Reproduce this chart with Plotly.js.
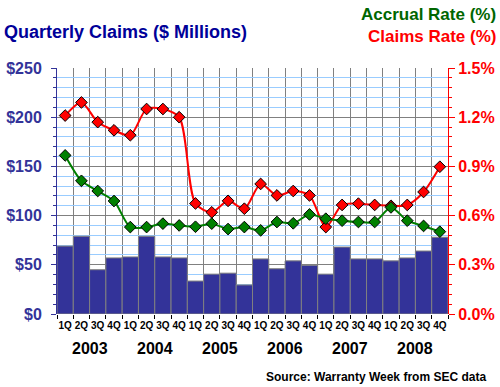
<!DOCTYPE html>
<html><head><meta charset="utf-8">
<script src="https://cdn.plot.ly/plotly-3.0.1.min.js"></script>
<style>body{margin:0;background:#fff}#c{width:500px;height:387px}</style>
</head><body><div id="c"></div>
<script>
const quarters = ["1Q","2Q","3Q","4Q","1Q","2Q","3Q","4Q","1Q","2Q","3Q","4Q","1Q","2Q","3Q","4Q","1Q","2Q","3Q","4Q","1Q","2Q","3Q","4Q"];
const years = ["2003","2004","2005","2006","2007","2008"];
const claims = [69,79,45,57,58,79,58,57,33.5,40.5,41.5,29.5,56,46,54,49.5,40.5,68,56,56,54,57,64,78];
const claimsRate = [1.21,1.29,1.17,1.12,1.09,1.25,1.25,1.20,0.674,0.62,0.69,0.642,0.793,0.723,0.75,0.723,0.53,0.665,0.673,0.665,0.66,0.665,0.744,0.898];
const accrualRate = [0.967,0.812,0.75,0.689,0.53,0.53,0.551,0.54,0.532,0.551,0.518,0.53,0.51,0.561,0.553,0.607,0.581,0.569,0.561,0.561,0.65,0.569,0.537,0.502];

const idx = quarters.map((q,i)=>i);
const font = "Liberation Sans, Arial, sans-serif";
const navy = "#333399", red = "#FF0000", green = "#008000";

const traces = [
  {type:"bar", x:idx, y:claims, marker:{color:navy, line:{color:"#808080", width:1}}, width:1, hoverinfo:"skip"},
  {type:"scatter", mode:"lines+markers", x:idx, y:claimsRate, xaxis:"x2", yaxis:"y2",
   line:{color:red, width:2, shape:"spline", smoothing:0.8},
   marker:{symbol:"diamond", size:9, color:red, line:{color:"#000", width:1}}},
  {type:"scatter", mode:"lines+markers", x:idx, y:accrualRate, xaxis:"x2", yaxis:"y2",
   line:{color:green, width:2, shape:"spline", smoothing:0.8},
   marker:{symbol:"diamond", size:9, color:green, line:{color:"#000", width:1}}}
];

const ann = years.map((y,i)=>({text:y, x:4*i+1.5, xref:"x", y:-0.14, yref:"paper",
  showarrow:false, xanchor:"center", yanchor:"middle", font:{family:font, size:16, weight:"bold", color:"#000"}}));
ann.push({text:"Accrual Rate (%)", xref:"paper", yref:"paper", x:1.127, y:1.2195, xanchor:"right", yanchor:"middle", showarrow:false, font:{family:font, size:17, weight:"bold", color:"#006600"}});
ann.push({text:"Claims Rate (%)", xref:"paper", yref:"paper", x:1.127, y:1.13, xanchor:"right", yanchor:"middle", showarrow:false, font:{family:font, size:17, weight:"bold", color:red}});
ann.push({text:"Source: Warranty Week from SEC data", xref:"paper", yref:"paper", x:1.102, y:-0.256, xanchor:"right", yanchor:"middle", showarrow:false, font:{family:font, size:12, weight:"bold", color:"#000"}});

const layout = {
  width:500, height:387, paper_bgcolor:"#fff", plot_bgcolor:"#fff",
  margin:{l:57, r:52, t:68, b:73}, showlegend:false, bargap:0,
  title:{text:"Quarterly Claims ($ Millions)", x:0.008, xanchor:"left", y:1-32/387, yanchor:"middle", font:{family:font, size:18, weight:"bold", color:"#000099"}},
  xaxis:{range:[-0.5,23.5], tickmode:"array", tickvals:idx, ticktext:quarters, ticks:"", showgrid:false, zeroline:false, ticklabelstandoff:4,
    tickfont:{family:font, size:10, weight:"bold", color:"#000"},
    minor:{tickmode:"linear", tick0:-0.5, dtick:1, showgrid:true, gridcolor:"#808080", gridwidth:1, ticks:"outside", ticklen:4, tickcolor:"#000"}},
  xaxis2:{range:[-0.5,23.5], overlaying:"x", anchor:"y2", showticklabels:false, showgrid:false, zeroline:false, ticks:""},
  yaxis:{range:[0,250], tickmode:"linear", tick0:0, dtick:50, tickprefix:"$", showgrid:true, gridcolor:"#808080", gridwidth:1,
    zeroline:false, showline:true, linecolor:navy, linewidth:1, ticks:"outside", ticklen:5, tickcolor:navy, ticklabelstandoff:6,
    tickfont:{family:font, size:16, weight:"bold", color:navy},
    minor:{dtick:10, showgrid:true, gridcolor:"#99CCFF", gridwidth:1, ticks:"outside", ticklen:3, tickcolor:navy}},
  yaxis2:{range:[0,1.5], overlaying:"y", side:"right", anchor:"x2", tickmode:"linear", tick0:0, dtick:0.3, tickformat:".1f", ticksuffix:"%",
    showgrid:false, zeroline:false, showline:true, linecolor:red, linewidth:1, ticks:"outside", ticklen:6, tickcolor:red,
    tickfont:{family:font, size:16, weight:"bold", color:red},
    minor:{dtick:0.06, ticks:"outside", ticklen:3, tickcolor:red, showgrid:false}},
  annotations:ann
};
Plotly.newPlot("c", traces, layout, {staticPlot:true, displayModeBar:false});
</script></body></html>
